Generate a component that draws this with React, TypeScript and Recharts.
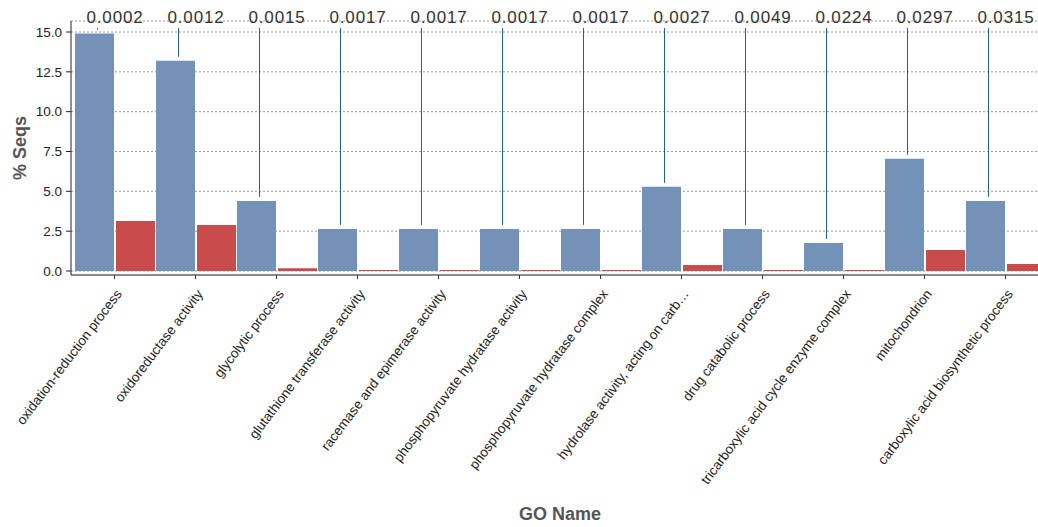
import { Bar, BarChart, CartesianGrid, LabelList, XAxis, YAxis } from "recharts";

const GO_NAMES = [
  "oxidation-reduction process",
  "oxidoreductase activity",
  "glycolytic process",
  "glutathione transferase activity",
  "racemase and epimerase activity",
  "phosphopyruvate hydratase activity",
  "phosphopyruvate hydratase complex",
  "hydrolase activity, acting on carb…",
  "drug catabolic process",
  "tricarboxylic acid cycle enzyme complex",
  "mitochondrion",
  "carboxylic acid biosynthetic process",
];

const PCT_TEST = [14.9, 13.2, 4.4, 2.64, 2.64, 2.64, 2.64, 5.28, 2.64, 1.76, 7.04, 4.4];
const PCT_BACKGROUND = [3.14, 2.89, 0.17, 0.06, 0.06, 0.06, 0.06, 0.38, 0.06, 0.06, 1.32, 0.44];
const P_VALUES = [
  "0.0002", "0.0012", "0.0015", "0.0017", "0.0017", "0.0017",
  "0.0017", "0.0027", "0.0049", "0.0224", "0.0297", "0.0315",
];
const Y_TICKS = [0, 2.5, 5, 7.5, 10, 12.5, 15];

// note: don't call a field "ref", recharts spreads entries onto elements
const data = GO_NAMES.map((name, i) => ({
  name,
  testPct: PCT_TEST[i],
  bgPct: PCT_BACKGROUND[i],
  pval: P_VALUES[i],
}));

const FONT = "'Liberation Sans', Arial, Helvetica, sans-serif";

// p-value text over each category, with a leader line down to the blue bar
function PValueLabel(props: any) {
  const { x, y, width, value } = props;
  const lineX = x + width / 2 + 3;
  const top = 28;
  const bottom = y - 4;
  return (
    <g>
      {bottom > top + 1 && (
        <line x1={lineX} x2={lineX} y1={top} y2={bottom} stroke="#22609c" strokeWidth={1} />
      )}
      <text
        x={x + width + 1}
        y={23}
        textAnchor="middle"
        fontSize={17}
        letterSpacing={0.8}
        fill="#333"
        fontFamily={FONT}
      >
        {value}
      </text>
    </g>
  );
}

function AngledTick(props: any) {
  const { x, y, payload } = props;
  return (
    <text
      transform={`translate(${x + 8},${y + 13}) rotate(-53)`}
      textAnchor="end"
      fontSize={13.5}
      fill="#222"
      fontFamily={FONT}
    >
      {payload.value}
    </text>
  );
}

export default function App() {
  return (
    <div
      style={{
        position: "fixed",
        left: 0,
        top: 0,
        width: 1038,
        height: 527,
        overflow: "hidden",
        background: "#fff",
        fontFamily: FONT,
      }}
    >
      <BarChart
        width={1049}
        height={527}
        data={data}
        margin={{ top: 21, right: 0, left: 0, bottom: 0 }}
        barCategoryGap={1}
        barGap={2}
      >
        <CartesianGrid horizontal vertical={false} stroke="#9a9a9a" strokeDasharray="2 2" />
        <XAxis
          dataKey="name"
          interval={0}
          height={252}
          padding={{ left: 3, right: 3 }}
          axisLine={{ stroke: "#8a8a8a", strokeWidth: 2 }}
          tickLine={{ stroke: "#333" }}
          tickSize={4}
          tick={AngledTick}
        />
        <YAxis
          width={71}
          domain={[0, 15]}
          ticks={Y_TICKS}
          padding={{ top: 11, bottom: 4 }}
          tickFormatter={(v: number) => v.toFixed(1)}
          axisLine={{ stroke: "#222" }}
          tickLine={{ stroke: "#222" }}
          tickSize={5}
          tickMargin={4}
          tick={{ fill: "#222", fontSize: 13.5, fontFamily: FONT }}
        />
        <Bar dataKey="testPct" fill="#7491b8" isAnimationActive={false}>
          <LabelList dataKey="pval" content={PValueLabel} />
        </Bar>
        <Bar dataKey="bgPct" fill="#c84c4c" isAnimationActive={false} />
      </BarChart>
      {/* axis titles */}
      <svg
        width={1038}
        height={527}
        style={{ position: "absolute", left: 0, top: 0, pointerEvents: "none" }}
      >
        <text
          x={560}
          y={520}
          textAnchor="middle"
          fontSize={18}
          fontWeight="bold"
          fill="#555"
          fontFamily={FONT}
        >
          GO Name
        </text>
        <text
          transform="translate(26,148) rotate(-90)"
          textAnchor="middle"
          fontSize={18}
          fontWeight="bold"
          fill="#555"
          fontFamily={FONT}
        >
          % Seqs
        </text>
      </svg>
    </div>
  );
}
